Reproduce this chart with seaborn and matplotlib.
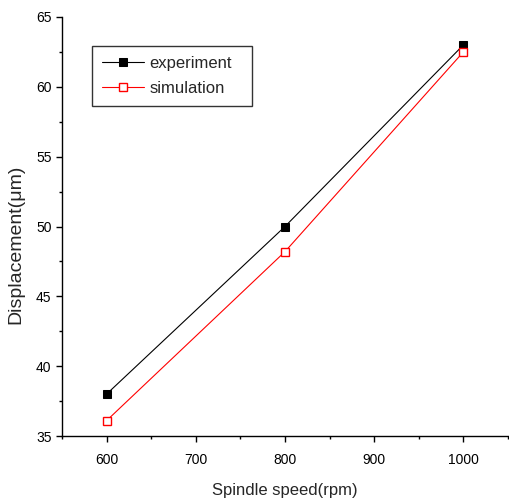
import matplotlib
matplotlib.use("Agg")
import matplotlib.pyplot as plt
import seaborn as sns
from matplotlib.ticker import MultipleLocator

speed = [600, 800, 1000]
experiment = [38.0, 50.0, 63.0]
simulation = [36.1, 48.2, 62.5]
xticks = [600, 700, 800, 900, 1000]
yticks = [35, 40, 45, 50, 55, 60, 65]

sns.set_style("ticks")
plt.rcParams['font.family'] = ['Liberation Sans', 'DejaVu Sans']

W, H = 509, 503
fig = plt.figure(figsize=(W / 100, H / 100), dpi=100)
ax = fig.add_axes([62 / W, (H - 436) / H, (508 - 62) / W, (436 - 17) / H])

sns.lineplot(x=speed, y=experiment, ax=ax, color='black', marker='s',
             markersize=5.5, markerfacecolor='black', markeredgecolor='black',
             linewidth=0.8, label='experiment')
sns.lineplot(x=speed, y=simulation, ax=ax, color='red', marker='s',
             markersize=5.5, markerfacecolor='white', markeredgecolor='red',
             markeredgewidth=1.0, linewidth=0.8, label='simulation')

ax.set_xlim(550, 1050)
ax.set_ylim(35, 65)
ax.set_xticks(xticks)
ax.set_yticks(yticks)
ax.xaxis.set_minor_locator(MultipleLocator(50))
ax.yaxis.set_minor_locator(MultipleLocator(2.5))
ax.tick_params(which='major', direction='out', length=4, width=1.0, labelsize=10, color='black', labelcolor='black')
ax.tick_params(which='minor', direction='out', length=2.5, width=1.0, color='black')
ax.tick_params(axis='x', which='major', pad=8)
for s in ['top', 'right']:
    ax.spines[s].set_visible(False)
for s in ['left', 'bottom']:
    ax.spines[s].set_linewidth(1.0)
    ax.spines[s].set_color('black')

ax.set_xlabel('Spindle speed(rpm)', fontsize=12, labelpad=12)
ax.set_ylabel('Displacement(μm)', fontsize=14)
ax.yaxis.set_label_coords(-0.085, 0.457)

leg = ax.legend(loc='upper left', bbox_to_anchor=(92 / W, 1 - 104 / H, 160 / W, 58 / H),
                bbox_transform=fig.transFigure, borderaxespad=0, mode='expand',
                fontsize=12, frameon=True, fancybox=False, edgecolor='black',
                handlelength=2.5, handletextpad=0.35, borderpad=0.6,
                labelspacing=0.6)
leg.get_frame().set_linewidth(1.0)

fig.savefig('out.png', dpi=100)
